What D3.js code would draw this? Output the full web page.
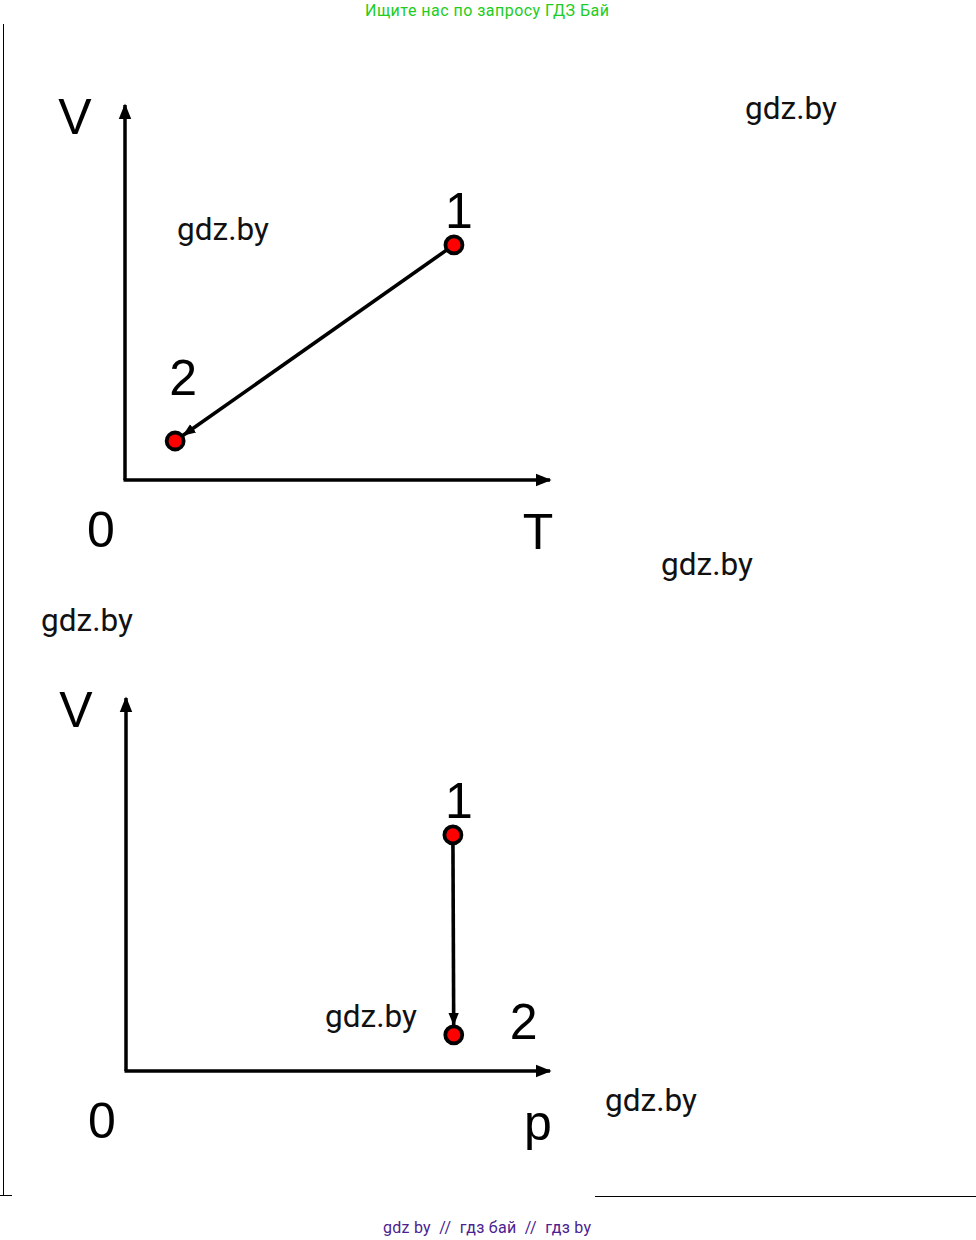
<!DOCTYPE html>
<html>
<head>
<meta charset="utf-8">
<script src="https://cdn.jsdelivr.net/npm/d3@7"></script>
<style>
  body { margin: 0; background: #fff; }
  svg { display: block; }
</style>
</head>
<body>
<div id="chart"></div>
<script>
// two process diagrams, values in arbitrary units 0..10 on each axis
var charts = ["VT", "Vp"];
var xLabels = ["T", "p"];
var yLabels = ["V", "V"];
var pointNames = ["1", "2"];
var vtX = [7.74, 1.18];
var vtY = [6.27, 1.04];
var vpX = [7.71, 7.73];
var vpY = [6.33, 0.97];
var watermarks = ["gdz.by", "gdz.by", "gdz.by", "gdz.by", "gdz.by", "gdz.by"];

var width = 976, height = 1240;

var svg = d3.select("#chart").append("svg")
    .attr("width", width)
    .attr("height", height)
    ;

svg.append("rect")
    .attr("width", width)
    .attr("height", height)
    .attr("fill", "#fff")
    ;

var defs = svg.append("defs");
defs.append("marker")
    .attr("id", "axisArrow")
    .attr("viewBox", "0 -5 10 10")
    .attr("refX", 9)
    .attr("refY", 0)
    .attr("markerWidth", 4.5)
    .attr("markerHeight", 4.5)
    .attr("orient", "auto")
    .append("path")
    .attr("d", "M0,-4L10,0L0,4Z")
    .attr("fill", "#000")
    ;
defs.append("marker")
    .attr("id", "procArrow")
    .attr("viewBox", "0 -5 10 10")
    .attr("refX", 10)
    .attr("refY", 0)
    .attr("markerWidth", 3.6)
    .attr("markerHeight", 3.6)
    .attr("orient", "auto")
    .append("path")
    .attr("d", "M0,-4L10,0L0,4Z")
    .attr("fill", "#000")
    ;

// page frame bits
svg.append("line").attr("x1", 3.5).attr("x2", 3.5).attr("y1", 24).attr("y2", 1196)
    .attr("stroke", "#000").attr("stroke-width", 1);
svg.append("line").attr("x1", 0).attr("x2", 12).attr("y1", 1195.5).attr("y2", 1195.5)
    .attr("stroke", "#000").attr("stroke-width", 1);
svg.append("line").attr("x1", 595).attr("x2", 976).attr("y1", 1196.5).attr("y2", 1196.5)
    .attr("stroke", "#000").attr("stroke-width", 1);

svg.append("text")
    .attr("x", 487).attr("y", 16)
    .attr("text-anchor", "middle")
    .attr("font-family", "Roboto, sans-serif")
    .attr("font-size", 16)
    .attr("fill", "#22cc22")
    .attr("textLength", 244)
    .text("Ищите нас по запросу ГДЗ Бай");

svg.append("text")
    .attr("x", 487).attr("y", 1233)
    .attr("text-anchor", "middle")
    .attr("font-family", "Roboto, sans-serif")
    .attr("font-size", 16)
    .attr("fill", "#4b2290")
    .attr("textLength", 208)
    .style("white-space", "pre")
    .text("gdz by  //  гдз бай  //  гдз by");

var layout = [
    {x0: 125, x1: 550, y0: 480, y1: 105, xs: vtX, ys: vtY},
    {x0: 126, x1: 550, y0: 1071, y1: 698, xs: vpX, ys: vpY}
];

var labelFont = "Liberation Sans, Arial, sans-serif";

layout.forEach(function(c, k){
    var xScale = d3.scaleLinear().domain([0, 10]).range([c.x0, c.x1]);
    var yScale = d3.scaleLinear().domain([0, 10]).range([c.y0, c.y1]);
    var g = svg.append("g").attr("class", "chart-" + charts[k]);

    // axes
    g.append("line")
        .attr("x1", xScale(0)).attr("y1", yScale(0))
        .attr("x2", xScale(0)).attr("y2", yScale(10))
        .attr("stroke", "#000").attr("stroke-width", 3.5)
        .attr("marker-end", "url(#axisArrow)");
    g.append("line")
        .attr("x1", xScale(0) - 1.5).attr("y1", yScale(0))
        .attr("x2", xScale(10)).attr("y2", yScale(0))
        .attr("stroke", "#000").attr("stroke-width", 3.5)
        .attr("marker-end", "url(#axisArrow)");

    g.append("text")
        .attr("x", xScale(0) - 50).attr("y", yScale(10) + 29)
        .attr("text-anchor", "middle")
        .attr("font-family", labelFont).attr("font-size", 50)
        .text(yLabels[k]);
    g.append("text")
        .attr("x", xScale(0) - 24).attr("y", yScale(0) + 67)
        .attr("text-anchor", "middle")
        .attr("font-family", labelFont).attr("font-size", 50)
        .text("0");
    g.append("text")
        .attr("x", xScale(10) - 12).attr("y", yScale(0) + (k == 0 ? 69 : 69))
        .attr("text-anchor", "middle")
        .attr("font-family", labelFont).attr("font-size", 50)
        .text(xLabels[k]);

    var pts = c.xs.map(function(x, i){ return {x: xScale(x), y: yScale(c.ys[i]), name: pointNames[i]}; });

    // process line, arrow stops at edge of circle 2
    var dx = pts[1].x - pts[0].x, dy = pts[1].y - pts[0].y;
    var len = Math.sqrt(dx*dx + dy*dy);
    g.append("line")
        .attr("x1", pts[0].x).attr("y1", pts[0].y)
        .attr("x2", pts[1].x - dx/len*9).attr("y2", pts[1].y - dy/len*9)
        .attr("stroke", "#000").attr("stroke-width", 3.6)
        .attr("marker-end", "url(#procArrow)");

    g.selectAll("circle.pt").data(pts).enter().append("circle")
        .attr("class", "pt")
        .attr("cx", d=>d.x).attr("cy", d=>d.y)
        .attr("r", 8.5)
        .attr("fill", "#f00")
        .attr("stroke", "#000")
        .attr("stroke-width", 3.8);

    var offs = k == 0 ? [[5, -17], [8, -46]] : [[6, -17], [70, 4]];
    g.selectAll("text.pt").data(pts).enter().append("text")
        .attr("class", "pt")
        .attr("x", (d,i)=>d.x + offs[i][0]).attr("y", (d,i)=>d.y + offs[i][1])
        .attr("text-anchor", "middle")
        .attr("font-family", labelFont).attr("font-size", 50)
        .text(d=>d.name);
});

// watermarks
var wmX = [791, 223, 707, 87, 371, 651];
var wmY = [119, 240, 575, 631, 1027, 1111];
svg.selectAll("text.wm").data(watermarks).enter().append("text")
    .attr("class", "wm")
    .attr("x", (d,i)=>wmX[i]).attr("y", (d,i)=>wmY[i])
    .attr("text-anchor", "middle")
    .attr("font-family", "Roboto, sans-serif")
    .attr("font-size", 31.5)
    .attr("fill", "#111")
    .text(d=>d);
</script>
</body>
</html>
